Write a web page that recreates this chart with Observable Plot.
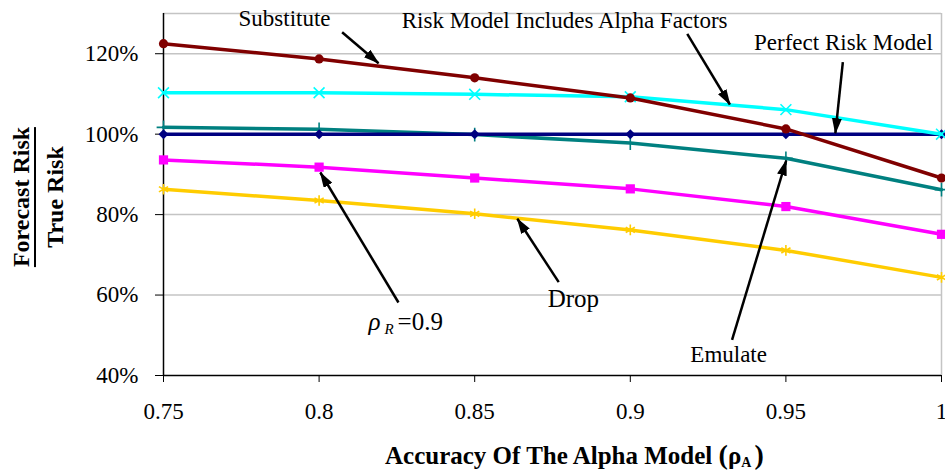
<!DOCTYPE html>
<html>
<head>
<meta charset="utf-8">
<script src="https://cdn.jsdelivr.net/npm/d3@7"></script>
<script src="https://cdn.jsdelivr.net/npm/@observablehq/plot@0.6"></script>
<style>
  body { margin: 0; background: #fff; }
  #wrap { position: relative; width: 945px; height: 470px; font-family: "Liberation Serif", "Times New Roman", serif; color: #000; }
  #chart svg { display: block; overflow: visible; }
  #ylabel { position: absolute; left: 37.5px; top: 197px; transform: translate(-50%, -50%) rotate(-90deg);
            font-weight: bold; font-size: 24px; text-align: center; white-space: nowrap; }
  #ylabel .num { line-height: 26px; border-bottom: 2px solid #000; }
  #ylabel .den { line-height: 26px; padding-top: 6px; }
  #xlabel { position: absolute; left: 385px; top: 441px; height: 28px; font-weight: bold; font-size: 25px; line-height: 28px; white-space: nowrap; }
  #xlabel .paren { font-size: 28px; line-height: 28px; }
  #xlabel .sub { font-size: 14px; position: relative; top: 3px; margin-right: 3px; }
</style>
</head>
<body>
<div id="wrap">
  <div id="chart"></div>
  <div id="ylabel"><div class="num">Forecast Risk</div><div class="den">True Risk</div></div>
  <div id="xlabel">Accuracy Of The Alpha Model <span class="paren">(</span>ρ<span class="sub">A</span><span class="paren">)</span></div>
</div>
<script>
// Accuracy of the alpha model (x) and the forecast / true risk ratio for each scenario
const rhoA = [0.75, 0.8, 0.85, 0.9, 0.95, 1];
const substitute   = [1.225, 1.187, 1.140, 1.090, 1.013, 0.891];
const alphaFactors = [1.103, 1.103, 1.099, 1.093, 1.061, 1.000];
const perfect      = [1.000, 1.000, 1.000, 1.000, 1.000, 1.000];
const emulate      = [1.017, 1.012, 0.999, 0.978, 0.940, 0.862];
const rhoR09       = [0.936, 0.918, 0.891, 0.864, 0.820, 0.751];
const drop         = [0.863, 0.835, 0.802, 0.762, 0.711, 0.644];

const yTicks = [0.4, 0.6, 0.8, 1.0, 1.2];
const gridLines = [0.6, 0.8, 1.0, 1.2, 1.3];

// Callout labels and their leader arrows, in data units
const notes = [
  {text: "Substitute", x: 0.7889, y: 1.287},
  {text: "Risk Model Includes Alpha Factors", x: 0.8789, y: 1.283},
  {text: "Perfect Risk Model", x: 0.9685, y: 1.228},
  {text: "Emulate", x: 0.9316, y: 0.452}
];
const dropNote = [{text: "Drop", x: 0.8817, y: 0.589}];
const rhoNote = [{x: 0.8159, y: 0.534}];
const arrows = [
  {x1: 0.8074, y1: 1.2535, x2: 0.8191, y2: 1.1764},
  {x1: 0.9183, y1: 1.2495, x2: 0.9320, y2: 1.0738},
  {x1: 0.9683, y1: 1.1789, x2: 0.9659, y2: 1.0024},
  {x1: 0.9327, y1: 0.4888, x2: 0.9501, y2: 0.9345},
  {x1: 0.8255, y1: 0.5815, x2: 0.8004, y2: 0.9047},
  {x1: 0.8770, y1: 0.6320, x2: 0.8637, y2: 0.7896}
];

const rows = (ys) => rhoA.map((x, i) => ({x, y: ys[i]}));

const series = [
  {ys: drop,         color: "#ffcc00", symbol: "asterisk", r: 5,   filled: false},
  {ys: rhoR09,       color: "#ff00ff", symbol: "square",   r: 5.2, filled: true},
  {ys: emulate,      color: "#008080", symbol: "plus",     r: 4.5, filled: false},
  {ys: perfect,      color: "#000080", symbol: "diamond2", r: 4.5, filled: true},
  {ys: alphaFactors, color: "#00ffff", symbol: "times",    r: 5,   filled: false},
  {ys: substitute,   color: "#800000", symbol: "circle",   r: 4.6, filled: true}
];

const seriesMarks = series.flatMap(s => [
  Plot.line(rows(s.ys), {x: "x", y: "y", stroke: s.color, strokeWidth: 3.5}),
  Plot.dot(rows(s.ys), s.filled
    ? {x: "x", y: "y", symbol: s.symbol, r: s.r, fill: s.color, stroke: "none"}
    : {x: "x", y: "y", symbol: s.symbol, r: s.r, fill: "none", stroke: s.color, strokeWidth: 1.6})
]);

const fmtX = d => String(+d.toFixed(2));
const fmtY = d => Math.round(d * 100) + "%";
const serif = "Liberation Serif";
const serifStack = "'Liberation Serif', 'Times New Roman', serif";

const chart = Plot.plot({
  width: 945,
  height: 432,
  marginLeft: 163,
  marginRight: 4,
  marginTop: 13,
  marginBottom: 57,
  style: `font-family: ${serifStack}; font-size: 23px; color: #000; background: #fff; overflow: visible;`,
  x: {domain: [0.75, 1], ticks: rhoA, tickFormat: fmtX, tickSize: 7, tickPadding: 20, label: null},
  y: {domain: [0.4, 1.3], ticks: yTicks, tickFormat: fmtY, tickSize: 8, tickPadding: 17, label: null},
  marks: [
    Plot.ruleY(gridLines, {stroke: "#c4c4c4", strokeWidth: 1.5}),
    Plot.ruleX([1], {stroke: "#c4c4c4", strokeWidth: 1.5}),
    Plot.ruleX([0.75], {stroke: "#000", strokeWidth: 1.5}),
    Plot.ruleY([0.4], {stroke: "#000", strokeWidth: 1.5}),
    ...seriesMarks,
    Plot.link(arrows, {x1: "x1", y1: "y1", x2: "x2", y2: "y2", stroke: "#000", strokeWidth: 2.5}),
    Plot.text(notes, {x: "x", y: "y", text: "text", fontFamily: serif, fontSize: 23, textAnchor: "middle", fill: "#000"}),
    Plot.text(dropNote, {x: "x", y: "y", text: "text", fontFamily: serif, fontSize: 25, textAnchor: "middle", fill: "#000"}),
    Plot.text(rhoNote, {x: "x", y: "y", text: () => "ρ", fontFamily: serif, fontSize: 25, fontStyle: "italic", textAnchor: "start", fill: "#000"}),
    Plot.text(rhoNote, {x: "x", y: "y", text: () => "R", fontFamily: serif, fontSize: 15, fontStyle: "italic", textAnchor: "start", dx: 16, dy: 8, fill: "#000"}),
    Plot.text(rhoNote, {x: "x", y: "y", text: () => "=0.9", fontFamily: serif, fontSize: 25, textAnchor: "start", dx: 29, fill: "#000"})
  ]
});

const svg = d3.select(chart);
// Tick labels in the same serif face and size as the rest of the figure
svg.selectAll('g[aria-label*="axis"] text')
  .style("font-family", serifStack)
  .style("font-size", "23px")
  .style("fill", "#000");
svg.selectAll('g[aria-label*="axis"] path, g[aria-label*="axis"] line')
  .style("stroke", "#000");

// Solid triangular heads for the leader arrows
svg.append("defs").append("marker")
  .attr("id", "arrow-head")
  .attr("viewBox", "0 0 16 10")
  .attr("refX", 15).attr("refY", 5)
  .attr("markerWidth", 16).attr("markerHeight", 10)
  .attr("markerUnits", "userSpaceOnUse")
  .attr("orient", "auto")
  .append("path").attr("d", "M0,0L16,5L0,10Z").attr("fill", "#000");
svg.selectAll('g[aria-label="link"] path').attr("marker-end", "url(#arrow-head)");

document.getElementById("chart").appendChild(chart);
</script>
</body>
</html>
